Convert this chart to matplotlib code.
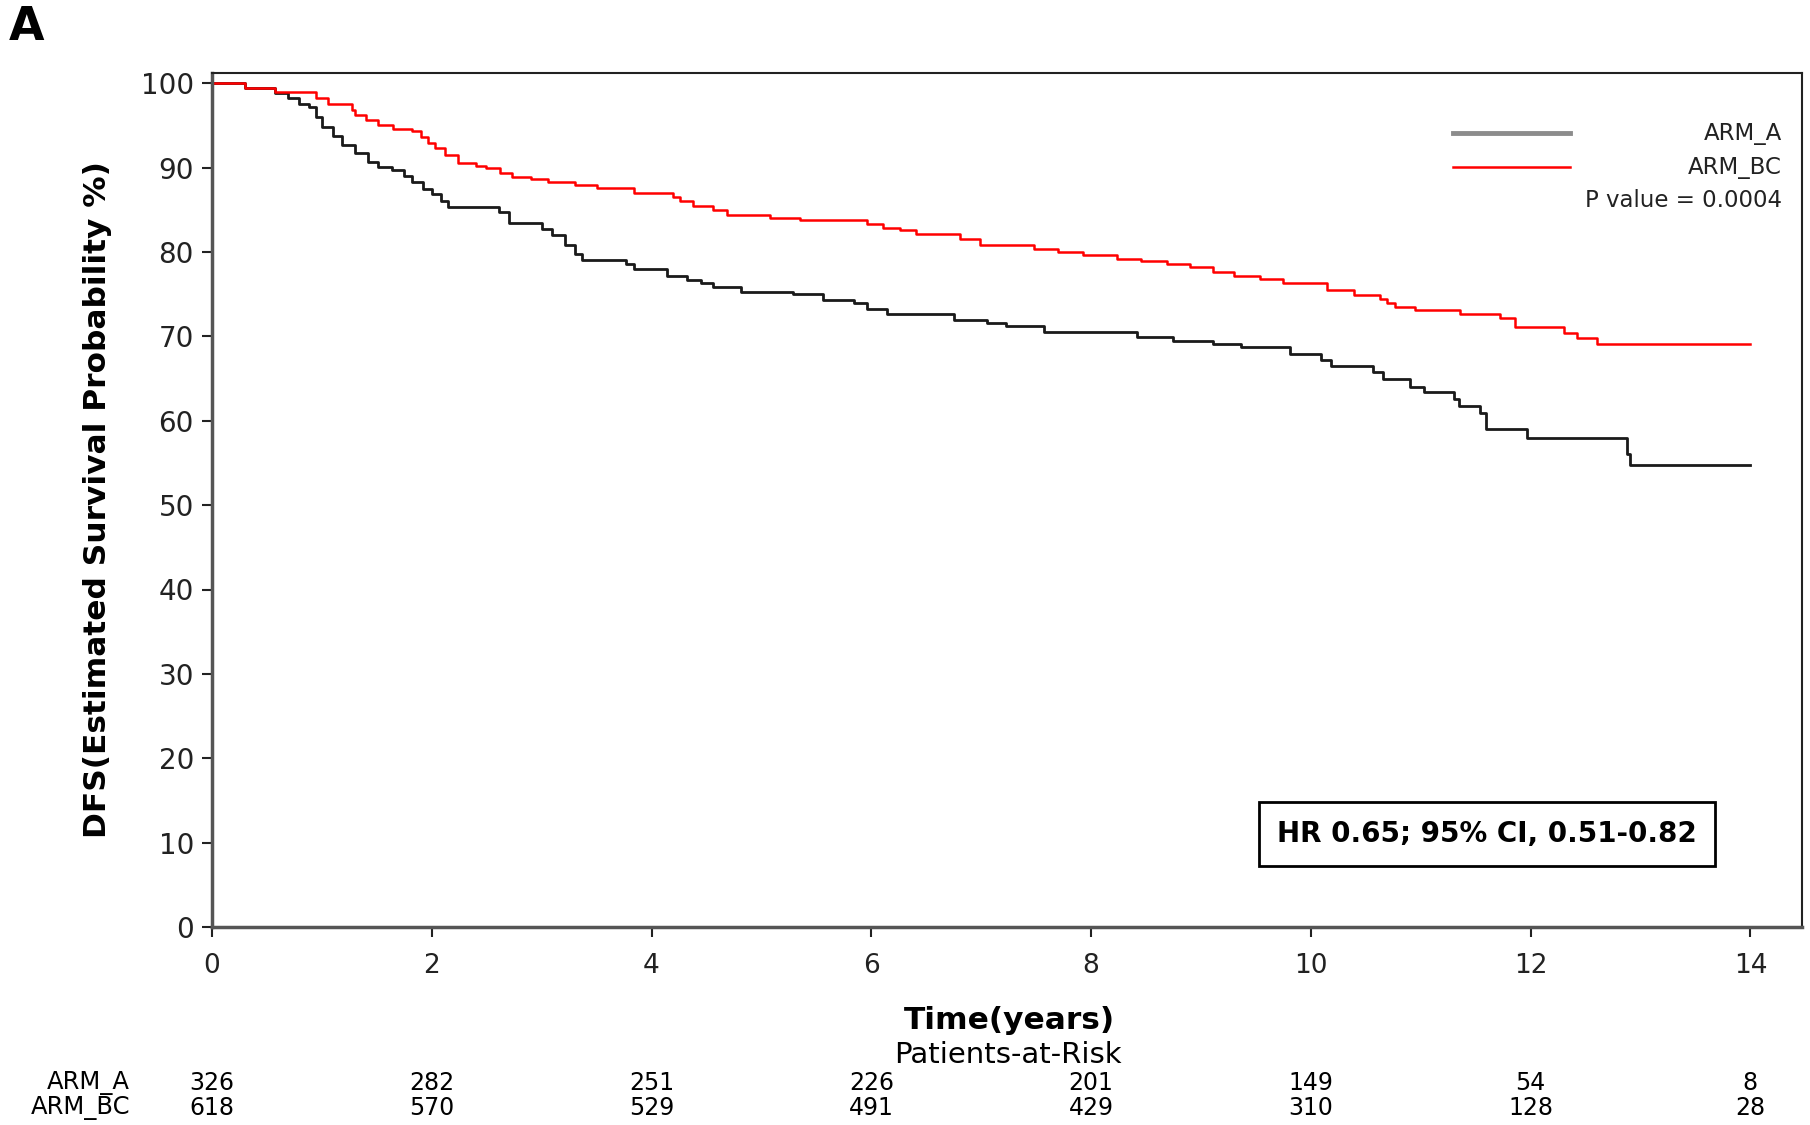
import numpy as np
import matplotlib
matplotlib.use("Agg")
import matplotlib.pyplot as plt
from matplotlib.transforms import blended_transform_factory

# Kaplan-Meier steps (time in years, DFS %)
arm_a_t = [0, 0.30, 0.57, 0.69, 0.79, 0.88, 0.95, 1.00, 1.10, 1.18, 1.30, 1.42, 1.51,
           1.64, 1.75, 1.82, 1.92, 2.00, 2.08, 2.15, 2.61, 2.70, 3.00, 3.09, 3.21, 3.30,
           3.37, 3.77, 3.84, 4.14, 4.32, 4.45, 4.56, 4.81, 5.29, 5.56, 5.84, 5.96, 6.14,
           6.75, 7.05, 7.23, 7.57, 8.42, 8.75, 9.11, 9.36, 9.81, 10.09, 10.18, 10.57,
           10.66, 10.90, 11.03, 11.30, 11.35, 11.54, 11.59, 11.97, 12.88, 12.90, 14.0]
arm_a_s = [100, 99.4, 98.8, 98.2, 97.6, 97.2, 96.0, 94.8, 93.8, 92.7, 91.7, 90.7, 90.1,
           89.7, 89.0, 88.3, 87.5, 86.9, 86.0, 85.3, 84.7, 83.4, 82.7, 82.0, 80.8, 79.8,
           79.0, 78.6, 78.0, 77.1, 76.7, 76.3, 75.9, 75.3, 75.0, 74.3, 73.9, 73.2, 72.7,
           71.9, 71.6, 71.2, 70.5, 69.9, 69.5, 69.1, 68.8, 67.9, 67.2, 66.5, 65.8,
           64.9, 64.0, 63.4, 62.6, 61.7, 60.9, 59.0, 57.9, 56.1, 54.7, 54.7]

arm_bc_t = [0, 0.30, 0.57, 0.95, 1.06, 1.27, 1.30, 1.40, 1.51, 1.65, 1.82, 1.90, 1.97,
            2.03, 2.12, 2.24, 2.40, 2.49, 2.62, 2.73, 2.90, 3.06, 3.30, 3.50, 3.84, 4.20,
            4.26, 4.38, 4.56, 4.69, 5.08, 5.35, 5.96, 6.11, 6.26, 6.41, 6.81, 6.99, 7.48,
            7.70, 7.93, 8.24, 8.45, 8.69, 8.90, 9.11, 9.30, 9.54, 9.75, 10.15, 10.39,
            10.63, 10.69, 10.77, 10.95, 11.36, 11.72, 11.86, 12.30, 12.42, 12.60, 14.0]
arm_bc_s = [100, 99.4, 99.0, 98.2, 97.6, 96.8, 96.2, 95.6, 95.0, 94.6, 94.4, 93.6, 92.9,
            92.3, 91.5, 90.5, 90.2, 89.9, 89.4, 88.9, 88.6, 88.3, 87.9, 87.6, 87.0, 86.5,
            86.1, 85.5, 85.0, 84.4, 84.0, 83.8, 83.3, 82.9, 82.6, 82.1, 81.6, 80.8, 80.4,
            80.0, 79.7, 79.2, 78.9, 78.6, 78.2, 77.6, 77.2, 76.8, 76.3, 75.5, 74.9,
            74.4, 73.9, 73.5, 73.1, 72.6, 72.2, 71.1, 70.4, 69.8, 69.1, 69.1]

# patients at risk
risk_times = [0, 2, 4, 6, 8, 10, 12, 14]
risk_a = [326, 282, 251, 226, 201, 149, 54, 8]
risk_bc = [618, 570, 529, 491, 429, 310, 128, 28]

p_text = "P value = 0.0004"
hr_text = "HR 0.65; 95% CI, 0.51-0.82"

plt.rcParams['font.family'] = ['DejaVu Sans']

fig = plt.figure(figsize=(18.1, 11.25), dpi=100)
ax = fig.add_axes([0.1171, 0.176, 0.8785, 0.759])

ax.step(arm_a_t, arm_a_s, where='post', color='#1a1a1a', lw=2)
ax.step(arm_bc_t, arm_bc_s, where='post', color='#ff0000', lw=1.8)

ax.set_xlim(0, 14.47)
ax.set_ylim(0, 101.2)
ax.set_xticks(risk_times)
ax.set_yticks(np.arange(0, 101, 10))
ax.tick_params(axis='both', direction='out', length=7, width=1.5, colors='#222222')
ax.tick_params(axis='x', pad=12, labelsize=19)
ax.tick_params(axis='y', pad=6, labelsize=20)
for side in ['top', 'right']:
    ax.spines[side].set_linewidth(1.5)
    ax.spines[side].set_color('#222222')
for side in ['left', 'bottom']:
    ax.spines[side].set_linewidth(2.5)
    ax.spines[side].set_color('#555555')

ax.set_ylabel("DFS(Estimated Survival Probability %)", fontsize=22.5, fontweight='bold')
ax.yaxis.set_label_coords(-0.063, 0.501)

# legend drawn by hand, like the SAS output
ax.plot([0.7805, 0.854], [0.9297, 0.9297], transform=ax.transAxes, color='#8c8c8c', lw=3.5)
ax.plot([0.7805, 0.854], [0.890, 0.890], transform=ax.transAxes, color='#ff0000', lw=1.8)
ax.text(0.9874, 0.9297, "ARM_A", transform=ax.transAxes, ha='right', va='center',
        fontsize=16.5, color='#222222')
ax.text(0.9874, 0.890, "ARM_BC", transform=ax.transAxes, ha='right', va='center',
        fontsize=16.5, color='#222222')
ax.text(0.9874, 0.8513, p_text, transform=ax.transAxes, ha='right', va='center',
        fontsize=16.5, color='#222222')

ax.text(0.8019, 0.1089, hr_text, transform=ax.transAxes, ha='center', va='center',
        fontsize=20, fontweight='bold',
        bbox=dict(boxstyle='square,pad=0.65', fc='white', ec='black', lw=2))

fig.text(0.005, 0.9644, "A", fontsize=33, fontweight='bold', ha='left', va='baseline')

fig.text(0.5575, 0.0933, "Time(years)", fontsize=22.5, fontweight='bold', ha='center',
         va='center')
fig.text(0.557, 0.0622, "Patients-at-Risk", fontsize=21, ha='center', va='center')

trans = blended_transform_factory(ax.transData, fig.transFigure)
fig.text(0.0718, 0.0373, "ARM_A", fontsize=17.5, ha='right', va='center')
fig.text(0.0718, 0.0151, "ARM_BC", fontsize=17.5, ha='right', va='center')
for t, na, nb in zip(risk_times, risk_a, risk_bc):
    ax.text(t, 0.0373, str(na), transform=trans, ha='center', va='center', fontsize=17)
    ax.text(t, 0.0151, str(nb), transform=trans, ha='center', va='center', fontsize=17)

fig.savefig("out.png", dpi=100)
